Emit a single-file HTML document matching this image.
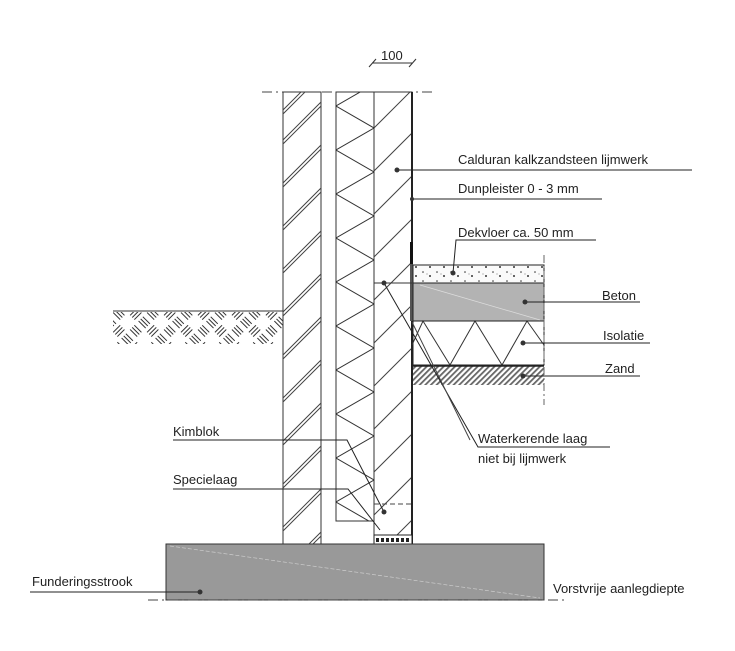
<!DOCTYPE html>
<html><head><meta charset="utf-8"><style>
html,body{margin:0;padding:0;background:#fff;}
svg{display:block;}
text{font-family:"Liberation Sans",Arial,sans-serif;font-size:13px;fill:#222;}
</style></head><body>
<svg width="735" height="651" viewBox="0 0 735 651" xmlns="http://www.w3.org/2000/svg">
<defs>
<pattern id="zand" width="4" height="4" patternUnits="userSpaceOnUse" patternTransform="rotate(45)">
<rect width="4" height="4" fill="#fff"/><rect width="1.8" height="4" fill="#666"/></pattern>
<pattern id="grnd" width="24" height="24" patternUnits="userSpaceOnUse" patternTransform="rotate(45)">
<path d="M3,1 v10 M6,1 v10 M9,1 v10 M13,15 h10 M13,18 h10 M13,21 h10" stroke="#333" stroke-width="1"/>
<path d="M15,1 v10 M18,1 v10 M21,1 v10 M1,15 h10 M1,18 h10 M1,21 h10" stroke="#333" stroke-width="1" transform="rotate(90 18 6) translate(0 0)"/>
</pattern>
<pattern id="dots" width="14" height="9" patternUnits="userSpaceOnUse">
<rect width="14" height="9" fill="#fafafa"/><circle cx="3" cy="2" r="0.8" fill="#333"/><circle cx="10" cy="6" r="1" fill="#333"/><circle cx="7" cy="4" r="0.5" fill="#555"/></pattern>
<clipPath id="outer"><rect x="283" y="92" width="38" height="452"/></clipPath>
<clipPath id="calsil"><rect x="374" y="92" width="38" height="452"/></clipPath>
<clipPath id="ins"><rect x="336" y="92" width="38" height="429"/></clipPath>
</defs>

<text x="381" y="60" font-size="11">100</text>
<line x1="372" y1="63" x2="412" y2="63" stroke="#333"/>
<line x1="369" y1="67" x2="376" y2="59" stroke="#333"/>
<line x1="409" y1="67" x2="416" y2="59" stroke="#333"/>

<line x1="262" y1="92" x2="432" y2="92" stroke="#444" stroke-dasharray="10,4,2,4"/>

<rect x="113" y="312" width="170" height="32" fill="url(#grnd)"/>
<line x1="113" y1="311" x2="283" y2="311" stroke="#333"/>

<rect x="283" y="92" width="38" height="452" fill="#fff" stroke="#333"/>
<g clip-path="url(#outer)" stroke="#444" stroke-width="1">
<path d="M283,140 l38,-38 M283,144 l38,-38 M283,183 l38,-38 M283,187 l38,-38 M283,226 l38,-38 M283,230 l38,-38 M283,269 l38,-38 M283,273 l38,-38 M283,312 l38,-38 M283,316 l38,-38 M283,355 l38,-38 M283,359 l38,-38 M283,398 l38,-38 M283,402 l38,-38 M283,441 l38,-38 M283,445 l38,-38 M283,484 l38,-38 M283,488 l38,-38 M283,527 l38,-38 M283,531 l38,-38 M283,570 l38,-38 M283,574 l38,-38 M283,110 l38,-38 M283,114 l38,-38"/>
</g>

<rect x="336" y="92" width="38" height="429" fill="#fff" stroke="#333"/>
<polyline clip-path="url(#ins)" fill="none" stroke="#333" points="374,84 336,106 374,128 336,150 374,172 336,194 374,216 336,238 374,260 336,282 374,304 336,326 374,348 336,370 374,392 336,414 374,436 336,458 374,480 336,502 374,524"/>

<rect x="374" y="92" width="38" height="452" fill="#fff" stroke="#333"/>
<g clip-path="url(#calsil)" stroke="#444">
<path d="M374,128 l38,-38 M374,171 l38,-38 M374,214 l38,-38 M374,257 l38,-38 M374,300 l38,-38 M374,343 l38,-38 M374,386 l38,-38 M374,429 l38,-38 M374,472 l38,-38 M374,515 l38,-38 M374,558 l38,-38"/>
</g>
<line x1="412" y1="92" x2="412" y2="544" stroke="#222" stroke-width="2"/>
<rect x="410" y="242" width="3" height="22" fill="#111"/>
<rect x="410" y="264" width="3" height="57" fill="#555"/>
<line x1="374" y1="504" x2="412" y2="504" stroke="#444" stroke-dasharray="5,3"/>
<rect x="374" y="535" width="38" height="9" fill="#fff" stroke="#222"/>
<path d="M376,539 h34 M376,541 h34" stroke="#222" stroke-dasharray="3,2" stroke-width="2"/>
<line x1="374" y1="283" x2="412" y2="283" stroke="#333"/>
<line x1="374" y1="283" x2="374" y2="300" stroke="#333" stroke-dasharray="2,2"/>

<rect x="413" y="265" width="131" height="18" fill="url(#dots)" stroke="#222"/>
<rect x="413" y="283" width="131" height="38" fill="#b3b3b3" stroke="#222"/>
<line x1="420" y1="285" x2="540" y2="320" stroke="#ddd" stroke-width="0.7"/>
<rect x="413" y="321" width="131" height="44" fill="#fff" stroke="#222"/>
<polyline fill="none" stroke="#333" points="412,345 423,321 450,365 475,321 502,365 527,321 544,345"/>
<rect x="413" y="366" width="131" height="19" fill="url(#zand)"/>
<line x1="413" y1="366" x2="544" y2="366" stroke="#222" stroke-width="1.5"/>
<line x1="544" y1="255" x2="544" y2="405" stroke="#666" stroke-dasharray="8,3,2,3"/>

<rect x="166" y="544" width="378" height="56" fill="#999" stroke="#333"/>
<line x1="170" y1="546" x2="540" y2="598" stroke="#ccc" stroke-width="0.7" stroke-dasharray="4,2"/>
<line x1="148" y1="600" x2="565" y2="600" stroke="#444" stroke-dasharray="10,4,2,4"/>

<g stroke="#222" fill="none">
<line x1="397" y1="170" x2="692" y2="170"/>
<line x1="412" y1="199" x2="602" y2="199"/>
<polyline points="596,240 456,240 453,273"/>
<line x1="525" y1="302" x2="640" y2="302"/>
<line x1="523" y1="343" x2="650" y2="343"/>
<line x1="523" y1="376" x2="640" y2="376"/>
<polyline points="384,283 478,447 610,447"/>
<line x1="412" y1="322" x2="470" y2="440" stroke="#444"/>
<polyline points="173,440 347,440 384,512"/>
<polyline points="173,489 348,489 380,530"/>
<line x1="30" y1="592" x2="200" y2="592"/>
</g>
<g fill="#333">
<circle cx="397" cy="170" r="2.5"/><circle cx="412" cy="199" r="2"/><circle cx="453" cy="273" r="2.5"/>
<circle cx="525" cy="302" r="2.5"/><circle cx="523" cy="343" r="2.5"/><circle cx="523" cy="376" r="2.5"/>
<circle cx="384" cy="283" r="2.5"/><circle cx="384" cy="512" r="2.5"/><circle cx="200" cy="592" r="2.5"/>
</g>
<text x="458" y="164">Calduran kalkzandsteen lijmwerk</text>
<text x="458" y="193">Dunpleister 0 - 3 mm</text>
<text x="458" y="237">Dekvloer ca. 50 mm</text>
<text x="602" y="300">Beton</text>
<text x="603" y="340">Isolatie</text>
<text x="605" y="373">Zand</text>
<text x="478" y="443">Waterkerende laag</text>
<text x="478" y="463">niet bij lijmwerk</text>
<text x="173" y="436">Kimblok</text>
<text x="173" y="484">Specielaag</text>
<text x="32" y="586">Funderingsstrook</text>
<text x="553" y="593">Vorstvrije aanlegdiepte</text>
</svg>
</body></html>
